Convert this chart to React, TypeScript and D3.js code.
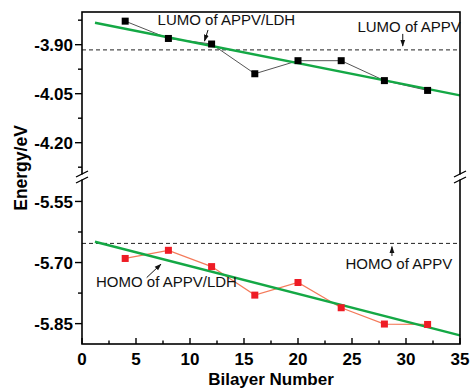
import React, { useEffect, useRef } from 'react';
import * as d3 from 'd3';

const WIDTH = 471;
const HEIGHT = 391;

// bilayer numbers and the measured energies
const bilayers = [4, 8, 12, 16, 20, 24, 28, 32];
const lumoLdh = [-3.828, -3.881, -3.898, -3.989, -3.949, -3.949, -4.010, -4.040];
const homoLdh = [-5.690, -5.670, -5.710, -5.780, -5.749, -5.811, -5.851, -5.852];

// linear fits (end points)
const fitX = [1.2, 35];
const lumoFit = [-3.833, -4.055];
const homoFit = [-5.649, -5.879];

// reference levels of pure APPV
const lumoAppv = -3.916;
const homoAppv = -5.653;

const xTicks = [0, 5, 10, 15, 20, 25, 30, 35];
const upperTicks = [-3.90, -4.05, -4.20];
const lowerTicks = [-5.55, -5.70, -5.85];

const FONT = '"Liberation Sans", Arial, Helvetica, sans-serif';
const GREEN = '#14a845';
const RED = '#ee1c25';
const SALMON = '#f47a5a';

function App() {
  const ref = useRef<SVGSVGElement | null>(null);

  useEffect(() => {
    const svg = d3.select(ref.current);
    svg.selectAll('*').remove();

    const left = 82, right = 460, top = 12, bottom = 344, brk = 177;

    const x = d3.scaleLinear().domain([0, 35]).range([left, right]);
    const yUp = d3.scaleLinear().domain([-4.305, -3.80]).range([brk, top]);
    const yLo = d3.scaleLinear().domain([-5.90, -5.49]).range([bottom, brk]);

    const defs = svg.append('defs');
    defs.append('marker')
      .attr('id', 'arr')
      .attr('viewBox', '0 0 10 10')
      .attr('refX', 9).attr('refY', 5)
      .attr('markerWidth', 7).attr('markerHeight', 7)
      .attr('markerUnits', 'userSpaceOnUse')
      .attr('orient', 'auto')
      .append('path')
      .attr('d', 'M0,1.5 L10,5 L0,8.5 Z')
      .attr('fill', '#111');

    // dashed reference levels
    svg.append('line')
      .attr('x1', left).attr('x2', right)
      .attr('y1', yUp(lumoAppv)).attr('y2', yUp(lumoAppv))
      .attr('stroke', '#222').attr('stroke-width', 1).attr('stroke-dasharray', '4,3');
    svg.append('line')
      .attr('x1', left).attr('x2', right)
      .attr('y1', yLo(homoAppv)).attr('y2', yLo(homoAppv))
      .attr('stroke', '#222').attr('stroke-width', 1).attr('stroke-dasharray', '4,3');

    // data lines
    const upLine = d3.line<number>().x((_, i) => x(bilayers[i])).y(d => yUp(d));
    const loLine = d3.line<number>().x((_, i) => x(bilayers[i])).y(d => yLo(d));
    svg.append('path').attr('d', upLine(lumoLdh)).attr('fill', 'none')
      .attr('stroke', '#555').attr('stroke-width', 1);
    svg.append('path').attr('d', loLine(homoLdh)).attr('fill', 'none')
      .attr('stroke', SALMON).attr('stroke-width', 1.2);

    // fits
    svg.append('line')
      .attr('x1', x(fitX[0])).attr('x2', x(fitX[1]))
      .attr('y1', yUp(lumoFit[0])).attr('y2', yUp(lumoFit[1]))
      .attr('stroke', GREEN).attr('stroke-width', 2.4);
    svg.append('line')
      .attr('x1', x(fitX[0])).attr('x2', x(fitX[1]))
      .attr('y1', yLo(homoFit[0])).attr('y2', yLo(homoFit[1]))
      .attr('stroke', GREEN).attr('stroke-width', 2.4);

    // markers
    const s = 7;
    svg.append('g').selectAll('rect').data(lumoLdh).enter().append('rect')
      .attr('x', (_, i) => x(bilayers[i]) - s / 2)
      .attr('y', d => yUp(d) - s / 2)
      .attr('width', s).attr('height', s)
      .attr('fill', '#000');
    svg.append('g').selectAll('rect').data(homoLdh).enter().append('rect')
      .attr('x', (_, i) => x(bilayers[i]) - s / 2)
      .attr('y', d => yLo(d) - s / 2)
      .attr('width', s).attr('height', s)
      .attr('fill', RED);

    // frame
    svg.append('rect')
      .attr('x', left).attr('y', top)
      .attr('width', right - left).attr('height', bottom - top)
      .attr('fill', 'none').attr('stroke', '#000').attr('stroke-width', 1.6);

    // y axis ticks (outward)
    const yAxisG = svg.append('g');
    const drawY = (scale: d3.ScaleLinear<number, number>, ticks: number[]) => {
      const [d0, d1] = scale.domain();
      const minors: number[] = [];
      for (let v = ticks[0] + 0.075; v <= d1 + 1e-9; v += 0.15) minors.push(v);
      for (let v = ticks[0] - 0.075; v >= d0 - 1e-9; v -= 0.15) minors.push(v);
      yAxisG.selectAll(null).data(ticks).enter().append('line')
        .attr('x1', left - 7).attr('x2', left)
        .attr('y1', d => scale(d)).attr('y2', d => scale(d))
        .attr('stroke', '#000').attr('stroke-width', 1.4);
      yAxisG.selectAll(null).data(minors).enter().append('line')
        .attr('x1', left - 4).attr('x2', left)
        .attr('y1', d => scale(d)).attr('y2', d => scale(d))
        .attr('stroke', '#000').attr('stroke-width', 1.4);
      yAxisG.selectAll(null).data(ticks).enter().append('text')
        .attr('x', left - 9).attr('y', d => scale(d))
        .attr('dy', '0.36em')
        .attr('text-anchor', 'end')
        .attr('font-family', FONT).attr('font-size', 17).attr('font-weight', 'bold')
        .text(d => d.toFixed(2));
    };
    drawY(yUp, upperTicks);
    drawY(yLo, lowerTicks);

    // x axis ticks (inward)
    const xMinor = xTicks.slice(0, -1).map(v => v + 2.5);
    svg.append('g').selectAll('line').data(xTicks).enter().append('line')
      .attr('x1', d => x(d)).attr('x2', d => x(d))
      .attr('y1', bottom).attr('y2', bottom - 6)
      .attr('stroke', '#000').attr('stroke-width', 1.4);
    svg.append('g').selectAll('line').data(xMinor).enter().append('line')
      .attr('x1', d => x(d)).attr('x2', d => x(d))
      .attr('y1', bottom).attr('y2', bottom - 3.5)
      .attr('stroke', '#000').attr('stroke-width', 1.4);
    svg.append('g').selectAll('text').data(xTicks).enter().append('text')
      .attr('x', d => x(d)).attr('y', 365)
      .attr('text-anchor', 'middle')
      .attr('font-family', FONT).attr('font-size', 17).attr('font-weight', 'bold')
      .text(d => String(d));

    // axis break marks
    [left, right].forEach(ax => {
      svg.append('rect')
        .attr('x', ax - 2).attr('y', brk - 2.5)
        .attr('width', 4).attr('height', 5)
        .attr('fill', '#fff');
      [brk - 3, brk + 3].forEach(yy => {
        svg.append('line')
          .attr('x1', ax - 6).attr('y1', yy + 3)
          .attr('x2', ax + 6).attr('y2', yy - 3)
          .attr('stroke', '#000').attr('stroke-width', 1.3);
      });
    });

    // axis titles
    svg.append('text')
      .attr('x', 271).attr('y', 385)
      .attr('text-anchor', 'middle')
      .attr('font-family', FONT).attr('font-size', 17).attr('font-weight', 'bold')
      .text('Bilayer Number');
    svg.append('text')
      .attr('transform', 'translate(27,168) rotate(-90)')
      .attr('text-anchor', 'middle')
      .attr('font-family', FONT).attr('font-size', 17.5).attr('font-weight', 'bold')
      .text('Energy/eV');

    // annotations
    const note = (tx: number, ty: number, label: string) =>
      svg.append('text').attr('x', tx).attr('y', ty)
        .attr('font-family', FONT).attr('font-size', 15).attr('fill', '#111')
        .text(label);
    const arrow = (x1: number, y1: number, x2: number, y2: number) =>
      svg.append('line')
        .attr('x1', x1).attr('y1', y1).attr('x2', x2).attr('y2', y2)
        .attr('stroke', '#111').attr('stroke-width', 1)
        .attr('marker-end', 'url(#arr)');

    note(x(7.0), yUp(-3.841), 'LUMO of APPV/LDH');
    arrow(x(11.67), yUp(-3.855), x(11.34), yUp(-3.889));
    note(x(25.5), yUp(-3.860), 'LUMO of APPV');
    arrow(x(29.7), yUp(-3.867), x(29.7), yUp(-3.904));
    note(x(24.4), yLo(-5.717), 'HOMO of APPV');
    arrow(x(28.7), yLo(-5.684), x(28.7), yLo(-5.661));
    note(x(1.3), yLo(-5.759), 'HOMO of APPV/LDH');
    arrow(x(5.99), yLo(-5.737), x(7.31), yLo(-5.704));
  }, []);

  return (
    <svg
      ref={ref}
      width={WIDTH}
      height={HEIGHT}
      style={{ position: 'absolute', left: 0, top: 0, background: '#fff' }}
    />
  );
}

export default App;
